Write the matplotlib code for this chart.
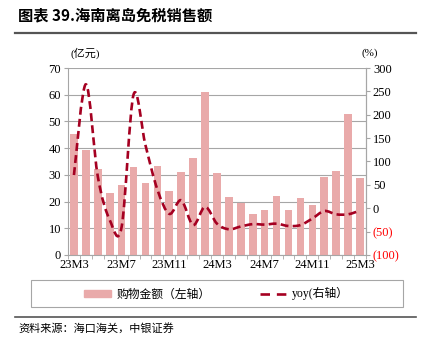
import matplotlib.pyplot as plt
import numpy as np
from matplotlib.path import Path
from matplotlib.patches import PathPatch, Patch, Rectangle
from matplotlib.lines import Line2D
from matplotlib.ticker import FuncFormatter

plt.rcParams['font.family'] = ['Liberation Serif', 'Noto Sans CJK SC', 'DejaVu Sans']

months = ['23M3', '23M4', '23M5', '23M6', '23M7', '23M8', '23M9', '23M10', '23M11', '23M12',
          '24M1', '24M2', '24M3', '24M4', '24M5', '24M6', '24M7', '24M8', '24M9', '24M10',
          '24M11', '24M12', '25M1', '25M2', '25M3']
# 购物金额 (亿元)
sales = [45.4, 39.2, 32.1, 23.1, 26.1, 32.9, 27.1, 33.2, 24.0, 31.0,
         36.2, 61.0, 30.6, 21.7, 19.6, 15.3, 16.8, 22.0, 16.8, 21.4,
         18.7, 29.2, 31.4, 52.9, 29.0]
# yoy (%)
yoy = [71, 265, 68, -25, -40, 243, 135, 40, -12, 17,
       -36, 3, -33, -45, -39, -34, -35, -33, -38, -36,
       -22, -6, -13, -13, -5]

bar_color = '#E9AAAA'
line_color = '#A50021'
grid_color = '#A6A6A6'

fig = plt.figure(figsize=(4.21, 3.54), dpi=100)
ax = fig.add_axes([0.1615, 0.2797, 0.7078, 0.5282])
x = np.arange(len(months))

ax.bar(x, sales, width=0.64, color=bar_color, zorder=2)
ax.set_xlim(-0.5, len(months) - 0.5)
ax.set_ylim(0, 70)
ax.set_yticks(range(0, 71, 10))
ax.set_axisbelow(True)
ax.grid(axis='y', color=grid_color, lw=0.8)
ax.set_xticks(x[::4])
ax.set_xticklabels(months[::4])
ax.set_xticks(np.arange(-0.5, len(months), 1), minor=True)
ax.tick_params(axis='x', which='major', length=0, labelsize=9, pad=3)
ax.tick_params(axis='x', which='minor', length=3, color=grid_color)
ax.tick_params(axis='y', length=3, color=grid_color, labelsize=9, pad=2)
ax.spines['top'].set_visible(False)
for s in ['left', 'right', 'bottom']:
    ax.spines[s].set_color(grid_color)

# yoy on the right axis, smoothed like the original
ax2 = ax.twinx()
ax2.set_ylim(-100, 300)
ax2.set_yticks(range(-100, 301, 50))
ax2.yaxis.set_major_formatter(FuncFormatter(lambda v, p: '(%d)' % abs(v) if v < 0 else '%d' % v))
ax2.tick_params(axis='y', length=3, color=grid_color, labelsize=9, pad=2)
for s in ['top', 'left', 'bottom']:
    ax2.spines[s].set_visible(False)
ax2.spines['right'].set_color(grid_color)
for lab, v in zip(ax2.get_yticklabels(), ax2.get_yticks()):
    if v < 0:
        lab.set_color('#FF0000')

pts = np.column_stack([x, yoy]).astype(float)
verts = [pts[0]]
codes = [Path.MOVETO]
n = len(pts)
for i in range(n - 1):
    p0 = pts[i - 1] if i > 0 else pts[i]
    p1 = pts[i]
    p2 = pts[i + 1]
    p3 = pts[i + 2] if i + 2 < n else pts[i + 1]
    verts += [p1 + (p2 - p0) / 6, p2 - (p3 - p1) / 6, p2]
    codes += [Path.CURVE4] * 3
ax2.add_patch(PathPatch(Path(verts, codes), fill=False, edgecolor=line_color,
                        lw=1.9, linestyle=(0, (3, 1.6)), capstyle='butt'))

# texts
fig.text(0.043, 0.957, '图表 39.海南离岛免税销售额', fontsize=11, fontweight='bold',
         family=['Noto Sans CJK SC'], va='center', ha='left')
fig.add_artist(Line2D([0.036, 0.988], [0.907, 0.907], color='#555555', lw=1.6))
fig.text(0.202, 0.850, '(亿元)', fontsize=8, family=['Liberation Serif', 'Noto Sans CJK SC'],
         ha='center', va='center')
fig.text(0.879, 0.850, '(%)', fontsize=8, ha='center', va='center')

# legend with frame
fig.add_artist(Rectangle((0.073, 0.132), 0.884, 0.077, transform=fig.transFigure,
                         fill=False, edgecolor='#A6A6A6', lw=0.8))
handles = [Patch(color=bar_color), Line2D([], [], color=line_color, lw=1.9, linestyle=(0, (3.6, 2.6)))]
fig.legend(handles, ['购物金额（左轴）', 'yoy(右轴）'], loc='center', bbox_to_anchor=(0.514, 0.170),
           ncol=2, frameon=False, prop={'family': ['Liberation Serif', 'Noto Sans CJK SC'], 'size': 8.5},
           handlelength=2.3, handleheight=0.55, handletextpad=0.4, columnspacing=4.2)

fig.add_artist(Line2D([0.036, 0.988], [0.105, 0.105], color='#555555', lw=1.2))
fig.text(0.043, 0.073, '资料来源：海口海关，中银证券', fontsize=8, style='italic',
         family=['Noto Sans CJK SC'], va='center', ha='left')

fig.savefig('out.png', dpi=100)
